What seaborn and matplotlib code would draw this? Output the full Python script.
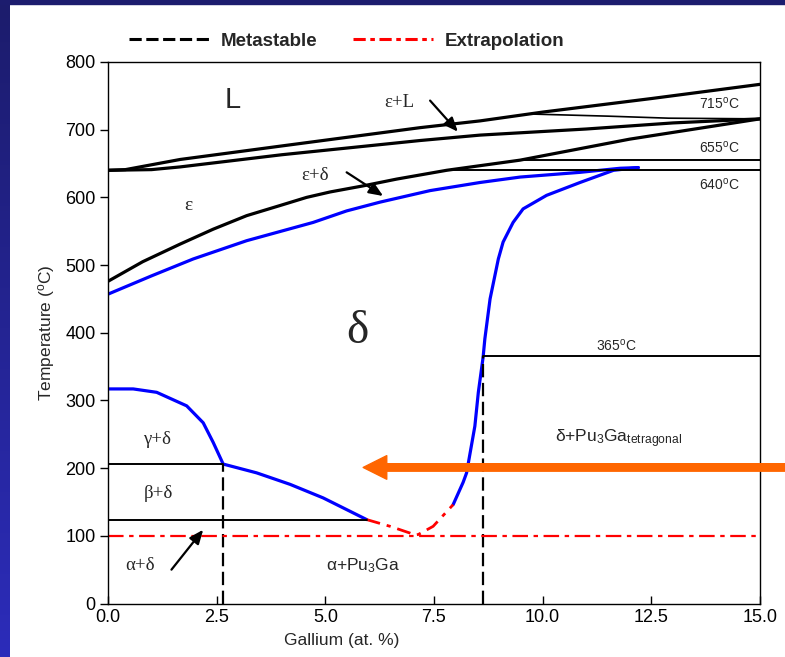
import numpy as np
import matplotlib
matplotlib.use("Agg")
import matplotlib.pyplot as plt
import seaborn as sns
from matplotlib.lines import Line2D
from matplotlib.patches import Rectangle
from matplotlib.colors import LinearSegmentedColormap

# ---- Pu-Ga phase boundaries (Ga in at.%, temperature in degC) ----
liquidus_ga = [0.0, 0.4, 1.66, 4.0, 7.18, 8.56, 10.0, 12.5, 15.0]
liquidus_t = [640, 641, 656, 676, 703, 713, 726, 746, 767]

eps_solidus_ga = [0.0, 1.0, 1.66, 4.0, 7.18, 8.56, 11.0, 13.0, 15.0]
eps_solidus_t = [640, 641, 645, 663, 684, 692, 701, 710, 716]

peritectic_ga = [9.8, 11.5, 12.9, 15.0]
peritectic_t = [723, 720, 717, 716]

eps_delta_ga = [0.0, 0.8, 1.66, 2.42, 3.19, 3.96, 4.57, 5.11, 5.87, 6.64, 7.79, 9.48, 12.0, 15.0]
eps_delta_t = [476, 505, 531, 553, 573, 588, 600, 608, 617, 627, 640, 655, 686, 716]

delta_upper_ga = [0.0, 1.0, 1.96, 3.19, 4.72, 5.49, 6.26, 7.41, 8.56, 9.48, 10.86, 11.78, 12.2]
delta_upper_t = [457, 484, 509, 536, 563, 580, 593, 610, 622, 630, 637, 643, 644]

delta_ga_rich_ga = [12.2, 11.63, 10.86, 10.09, 9.55, 9.32, 9.09, 8.98, 8.79, 8.67, 8.63,
                    8.52, 8.44, 8.25, 8.17, 7.94]
delta_ga_rich_t = [644, 640, 622, 603, 583, 563, 534, 509, 450, 391, 364,
                   312, 262, 193, 179, 146]

delta_low_ga = [0.0, 0.58, 1.12, 1.81, 2.19, 2.42, 2.65, 3.42, 4.19, 4.95, 5.95]
delta_low_t = [317, 317, 312, 292, 267, 238, 206, 193, 176, 156, 124]

extrap_ga = [5.95, 6.49, 6.95, 7.05, 7.14, 7.48, 7.94]
extrap_t = [124, 114, 104, 101, 102, 114, 146]

# isotherms: temperature, Ga start, Ga end
iso_t = [655, 640, 365, 206, 124]
iso_from = [9.48, 7.79, 8.63, 0.0, 0.0]
iso_to = [15.0, 15.0, 15.0, 2.65, 5.95]

# metastable verticals: Ga, top temperature
meta_ga = [2.65, 8.63]
meta_top = [206, 365]

extrap_level = 100

xticks = [0.0, 2.5, 5.0, 7.5, 10.0, 12.5, 15.0]
yticks = [0, 100, 200, 300, 400, 500, 600, 700, 800]

# ---- styling ----
sns.set_theme(style="white")
plt.rcParams["font.family"] = ["Liberation Sans", "DejaVu Sans"]
plt.rcParams["mathtext.fontset"] = "custom"
plt.rcParams["mathtext.rm"] = "Liberation Sans"
plt.rcParams["mathtext.it"] = "Liberation Sans:italic"

fig = plt.figure(figsize=(7.85, 6.57), dpi=100)
fig.patch.set_facecolor("white")
ax = fig.add_axes([108 / 785, 1 - 603.5 / 657, 652 / 785, 541.5 / 657])

BLUE = "#0000FF"
thick = 2.3
thin = 1.4

# phase boundary curves
sns.lineplot(x=liquidus_ga, y=liquidus_t, ax=ax, sort=False, estimator=None, color="black", lw=thick)
sns.lineplot(x=eps_solidus_ga, y=eps_solidus_t, ax=ax, sort=False, estimator=None, color="black", lw=thick)
sns.lineplot(x=peritectic_ga, y=peritectic_t, ax=ax, sort=False, estimator=None, color="black", lw=1.2)
sns.lineplot(x=eps_delta_ga, y=eps_delta_t, ax=ax, sort=False, estimator=None, color="black", lw=thick)
sns.lineplot(x=delta_upper_ga, y=delta_upper_t, ax=ax, sort=False, estimator=None, color=BLUE, lw=thick)
sns.lineplot(x=delta_ga_rich_ga, y=delta_ga_rich_t, ax=ax, sort=False, estimator=None, color=BLUE, lw=thick)
sns.lineplot(x=delta_low_ga, y=delta_low_t, ax=ax, sort=False, estimator=None, color=BLUE, lw=thick)
ax.plot(extrap_ga, extrap_t, color="red", lw=2.0, linestyle=(0, (5, 2.5, 1.5, 2.5)))

# isotherms
for t, a, b in zip(iso_t, iso_from, iso_to):
    ax.plot([a, b], [t, t], color="black", lw=thin)

# metastable boundaries
for g, top in zip(meta_ga, meta_top):
    ax.plot([g, g], [0, top], color="black", lw=1.6, linestyle=(0, (6, 2.5)))

# extrapolated alpha/delta line
ax.plot([0, 15], [extrap_level, extrap_level], color="red", lw=1.6,
        linestyle=(0, (7, 2.5, 2, 2.5)))

# axes
ax.set_xlim(0, 15)
ax.set_ylim(0, 800)
ax.set_xticks(xticks)
ax.set_xticklabels([f"{v:.1f}" for v in xticks])
ax.set_yticks(yticks)
ax.tick_params(axis="x", direction="in", length=6, width=1, labelsize=13, pad=4,
               colors="black", bottom=True)
ax.tick_params(axis="y", direction="out", length=6, width=1, labelsize=13, pad=3,
               colors="black", left=True)
for s in ax.spines.values():
    s.set_color("black")
    s.set_linewidth(1.0)
ax.set_xlabel("Gallium (at. %)", fontsize=12.5, labelpad=6)
ax.xaxis.set_label_coords((342 - 108) / 652, -0.055)
ax.set_ylabel("Temperature ($^\\mathregular{o}$C)", fontsize=12.5, labelpad=6)

# region labels
greek = ["Liberation Serif", "DejaVu Serif"]
ax.text(2.86, 744, "L", fontsize=21, ha="center", va="center")
ax.text(5.73, 402, "δ", fontsize=34, ha="center", va="center", family=greek)
ax.text(1.86, 588, "ε", fontsize=14, ha="center", va="center", family=greek)
ax.text(6.70, 740, "ε+L", fontsize=13.5, ha="center", va="center", family=greek)
ax.text(4.76, 633, "ε+δ", fontsize=13.5, ha="center", va="center", family=greek)
ax.text(1.14, 243, "γ+δ", fontsize=13.5, ha="center", va="center", family=greek)
ax.text(1.15, 163, "β+δ", fontsize=13.5, ha="center", va="center", family=greek)
ax.text(0.74, 56, "α+δ", fontsize=13.5, ha="center", va="center", family=greek)
ax.text(5.87, 56, "α+Pu$_\\mathregular{3}$Ga", fontsize=12.5, ha="center", va="center")
ax.text(10.28, 243, "δ+Pu$_\\mathregular{3}$Ga$_\\mathregular{tetragonal}$", fontsize=12.5,
        ha="left", va="center")

for lab, t in [("715", 739), ("655", 674), ("640", 619)]:
    ax.text(14.06, t, lab + "$^\\mathregular{o}$C", fontsize=10, ha="center", va="center")
ax.text(11.69, 381, "365$^\\mathregular{o}$C", fontsize=10, ha="center", va="center")

# pointer arrows
small = dict(arrowstyle="-|>,head_length=0.6,head_width=0.25", color="black", lw=1.6,
             shrinkA=0, shrinkB=0, mutation_scale=14)
ax.annotate("", xy=(8.05, 697), xytext=(7.41, 743), arrowprops=small)
ax.annotate("", xy=(6.33, 602), xytext=(5.49, 637), arrowprops=small)
ax.annotate("", xy=(2.19, 109), xytext=(1.46, 50), arrowprops=small)

# highlighted composition arrow
ax.annotate("", xy=(5.87, 201), xytext=(15.6, 201), annotation_clip=False,
            arrowprops=dict(arrowstyle="simple,head_length=0.85,head_width=0.85,tail_width=0.27",
                            color="#FF6600", shrinkA=0, shrinkB=0, mutation_scale=20,
                            clip_on=False))

# legend
handles = [Line2D([], [], color="black", lw=2.2, linestyle=(0, (4, 1.5))),
           Line2D([], [], color="red", lw=2.2, linestyle=(0, (4, 1.5, 1.5, 1.5)))]
fig.legend(handles, ["Metastable", "Extrapolation"], loc="center",
           bbox_to_anchor=(346.5 / 785, 1 - 41 / 657), ncol=2, frameon=False,
           prop={"weight": "bold", "size": 13.5}, handlelength=4.3, handletextpad=0.6,
           columnspacing=1.9)

# slide frame
cmap = LinearSegmentedColormap.from_list("frame", ["#1c1c6c", "#2c2cba"])
fax = fig.add_axes([0, 0, 10 / 785, 1])
fax.imshow(np.linspace(0, 1, 256).reshape(-1, 1), aspect="auto", cmap=cmap)
fax.axis("off")
fig.add_artist(Rectangle((0, 1 - 4 / 657), 1, 4 / 657, transform=fig.transFigure,
                         color="#1c1c6e", zorder=10))

fig.savefig("out.png", dpi=100, facecolor="white")
